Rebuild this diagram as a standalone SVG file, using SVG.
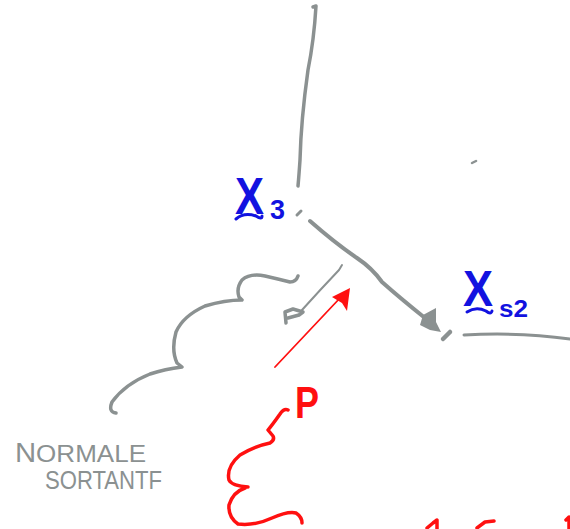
<svg xmlns="http://www.w3.org/2000/svg" width="570" height="529" viewBox="0 0 570 529">
<style>
.g{fill:none;stroke:#8b9191;stroke-linecap:round;stroke-linejoin:round}
.r{fill:none;stroke:#ff1010;stroke-linecap:round;stroke-linejoin:round}
.b{fill:none;stroke:#1212e0;stroke-linecap:round;stroke-linejoin:round;stroke-width:3}
.bt{fill:#1212e0;font-family:"Liberation Sans",Arial,sans-serif;font-weight:bold}
.gt{fill:#8b9191;font-family:"Liberation Sans",Arial,sans-serif}
.rt{fill:#ff1010;font-family:"Liberation Sans",Arial,sans-serif;font-weight:bold}
</style>
<rect width="570" height="529" fill="#ffffff"/>
<g id="connectors">
<path class="g" stroke-width="3.5" d="M313,7 L316,6 Q314,40 308,70 Q301,120 300,160 Q299,175 298,186"/>
<path class="g" stroke-width="3" d="M297,215 L301,211"/>
<path class="g" stroke-width="4" d="M310,221 Q335,243 357,258 Q372,268 382,282 Q400,298 425,318"/>
<path fill="#8b9191" d="M423,315 L436,308 L436,322 L441,332 L430,330 L420,325 Z"/>
<path class="g" stroke-width="4.5" d="M443,339 L450,332"/>
<path class="g" stroke-width="3" d="M464,335 Q520,332 570,339"/>
<path class="g" stroke-width="2.5" d="M472,163 L476,161"/>
<path class="g" stroke-width="2" d="M342,265 L339,270 Q320,290 302,310"/>
<path class="g" stroke-width="3.5" d="M286,323 L285,312 L293,309 L303,312 L299,315 L288,318"/>
<path class="r" stroke-width="1.8" d="M275,367 Q305,335 340,298"/>
<path fill="#ff1010" d="M350,288 L347,311 L342,303 L332,297 Z"/>
</g>
<g id="normale-bracket">
<path class="g" stroke-width="3.5" d="M298,276 Q296,282 290,282 Q278,279 265,276 Q250,273 242,280 Q236,288 239,297 L242,300 Q225,300 205,306 Q183,316 176,332 Q171,350 177,363 L182,367 Q165,369 150,374 Q125,384 112,402 Q108,412 116,413"/>
</g>
<g id="p-brace">
<path class="r" stroke-width="3.5" d="M288,410 Q284,408 280,414 Q273,424 268,430 L273,436 Q275,440 270,443 Q255,446 240,455 Q226,467 229,480 Q232,486 248,487"/>
<path class="r" stroke-width="3.5" d="M245,488 Q233,492 229,505 Q228,517 238,524 Q255,526 272,518 Q288,511 296,513 Q302,517 302,523"/>
<path class="r" stroke-width="3.5" d="M427,528 L433,523 L437,520 L437,529 M477,528 L485,522 L494,521 M566,520 L569,517 L569,529"/>
</g>
<g id="label-x3">
<text class="bt" x="235" y="214" font-size="52" textLength="29" lengthAdjust="spacingAndGlyphs">X</text>
<path class="b" d="M236,219 Q244,212 256,216 Q262,220 262,216"/>
<text class="bt" x="270" y="219" font-size="27" textLength="15" lengthAdjust="spacingAndGlyphs">3</text>
</g>
<g id="label-xs2">
<text class="bt" x="463" y="306" font-size="50" textLength="30" lengthAdjust="spacingAndGlyphs">X</text>
<path class="b" d="M467,312 Q476,306 486,311 Q491,315 492,311"/>
<text class="bt" x="499" y="317" font-size="24" textLength="29" lengthAdjust="spacingAndGlyphs">s2</text>
</g>
<g id="label-normale">
<text class="gt" x="15" y="462" font-size="27" textLength="131" lengthAdjust="spacingAndGlyphs">N<tspan font-size="24">ORMALE</tspan></text>
<text class="gt" x="45" y="489" font-size="25" textLength="117" lengthAdjust="spacingAndGlyphs">SORTANTF</text>
</g>
<g id="label-p">
<text class="rt" x="295" y="418" font-size="44" textLength="24" lengthAdjust="spacingAndGlyphs">P</text>
</g>
</svg>
